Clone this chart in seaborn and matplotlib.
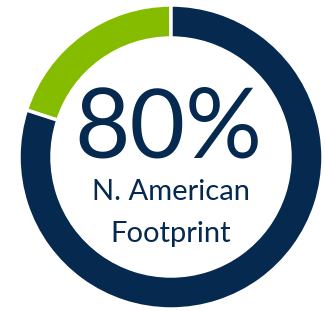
import matplotlib
matplotlib.use("Agg")
import matplotlib.pyplot as plt
import seaborn as sns

# donut data
labels = ["Other", "N. American"]
shares = [20, 80]
colors = ["#86bc00", "#05294f"]
big_text = "80%"
caption = ["N. American", "Footprint"]

sns.set_theme(style="white")
plt.rcParams['font.family'] = ['Lato', 'DejaVu Sans']

fig = plt.figure(figsize=(3.25, 3.11), dpi=100)
ax = fig.add_axes([0, 0, 1, 1])
ax.pie(shares, colors=colors, startangle=90, counterclock=True,
       center=(171, 154), radius=152,
       wedgeprops=dict(width=33, edgecolor="white", linewidth=2.5))
ax.set_xlim(0, 325)
ax.set_ylim(0, 311)
ax.set_aspect("equal")
ax.axis("off")

ax.text(168, 154, big_text, ha="center", va="baseline", fontsize=69, color=colors[1])
ax.text(171, 111, caption[0], ha="center", va="baseline", fontsize=21, color=colors[1])
ax.text(171, 69, caption[1], ha="center", va="baseline", fontsize=21, color=colors[1])

fig.savefig("out.png", dpi=100, facecolor="white")
